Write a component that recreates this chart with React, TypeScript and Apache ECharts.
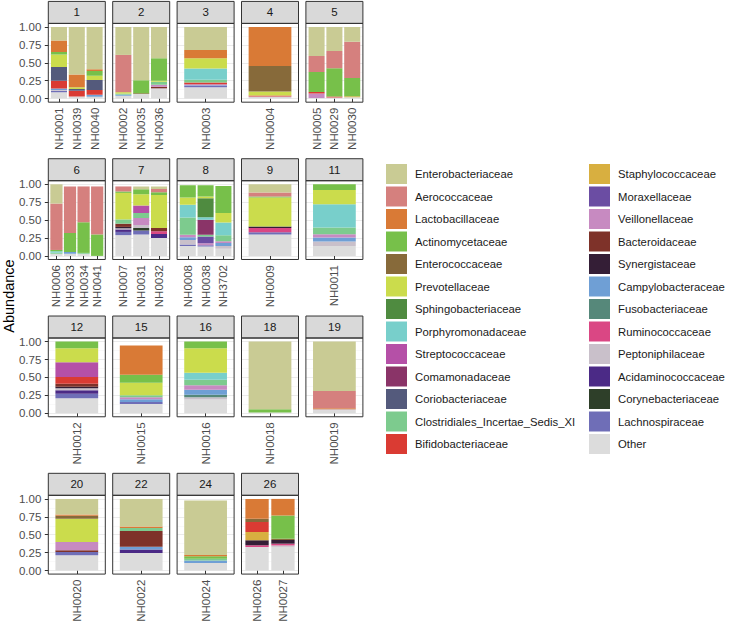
import React, { useEffect, useRef } from 'react';
import * as echarts from 'echarts';

// ---------------- data ----------------
const families = [
  'Enterobacteriaceae', 'Aerococcaceae', 'Lactobacillaceae', 'Actinomycetaceae', 'Enterococcaceae',
  'Prevotellaceae', 'Sphingobacteriaceae', 'Porphyromonadaceae', 'Streptococcaceae', 'Comamonadaceae',
  'Coriobacteriaceae', 'Clostridiales_Incertae_Sedis_XI', 'Bifidobacteriaceae',
  'Staphylococcaceae', 'Moraxellaceae', 'Veillonellaceae', 'Bacteroidaceae', 'Synergistaceae',
  'Campylobacteraceae', 'Fusobacteriaceae', 'Ruminococcaceae', 'Peptoniphilaceae', 'Acidaminococcaceae',
  'Corynebacteriaceae', 'Lachnospiraceae', 'Other',
];

const familyColors = [
  '#C9CB94', '#D5807E', '#D97A36', '#77C04A', '#876A3A',
  '#CBDC4C', '#4F8B40', '#78CFCB', '#B550A7', '#8A3468',
  '#545A7C', '#7DCB8E', '#DA3B33',
  '#D8AF40', '#6B4DA3', '#C78AC1', '#7E3229', '#341E36',
  '#6F9FD5', '#56887A', '#DA4784', '#C9C0CA', '#4B2A86',
  '#2E3F29', '#6F6EB7', '#DCDCDC',
];

type Abund = Record<string, number>;

const NH0001: Abund = { Enterobacteriaceae: 0.187, Lactobacillaceae: 0.163, Actinomycetaceae: 0.033, Prevotellaceae: 0.177, Coriobacteriaceae: 0.19, Bifidobacteriaceae: 0.11, Campylobacteraceae: 0.02, Peptoniphilaceae: 0.01, Lachnospiraceae: 0.02, Other: 0.09 };
const NH0039: Abund = { Enterobacteriaceae: 0.665, Lactobacillaceae: 0.175, Prevotellaceae: 0.025, Coriobacteriaceae: 0.025, Bifidobacteriaceae: 0.08, Other: 0.03 };
const NH0040: Abund = { Enterobacteriaceae: 0.59, Lactobacillaceae: 0.025, Actinomycetaceae: 0.065, Prevotellaceae: 0.06, Coriobacteriaceae: 0.14, Bifidobacteriaceae: 0.065, Campylobacteraceae: 0.03, Other: 0.025 };
const NH0002: Abund = { Enterobacteriaceae: 0.39, Aerococcaceae: 0.52, Prevotellaceae: 0.02, Clostridiales_Incertae_Sedis_XI: 0.015, Campylobacteraceae: 0.015, Other: 0.04 };
const NH0035: Abund = { Enterobacteriaceae: 0.745, Actinomycetaceae: 0.18, Enterococcaceae: 0.01, Other: 0.065 };
const NH0036: Abund = { Enterobacteriaceae: 0.435, Actinomycetaceae: 0.315, Prevotellaceae: 0.015, Clostridiales_Incertae_Sedis_XI: 0.04, Veillonellaceae: 0.03, Bacteroidaceae: 0.02, Peptoniphilaceae: 0.015, Other: 0.13 };
const NH0003: Abund = { Enterobacteriaceae: 0.32, Lactobacillaceae: 0.115, Prevotellaceae: 0.145, Porphyromonadaceae: 0.155, Clostridiales_Incertae_Sedis_XI: 0.04, Bifidobacteriaceae: 0.025, Veillonellaceae: 0.015, Campylobacteraceae: 0.01, Lachnospiraceae: 0.015, Other: 0.16 };
const NH0004: Abund = { Lactobacillaceae: 0.545, Enterococcaceae: 0.355, Prevotellaceae: 0.055, Bifidobacteriaceae: 0.015, Peptoniphilaceae: 0.015, Other: 0.015 };
const NH0005: Abund = { Enterobacteriaceae: 0.405, Aerococcaceae: 0.223, Actinomycetaceae: 0.279, Bifidobacteriaceae: 0.023, Veillonellaceae: 0.06, Other: 0.01 };
const NH0029: Abund = { Enterobacteriaceae: 0.335, Aerococcaceae: 0.242, Actinomycetaceae: 0.395, Bifidobacteriaceae: 0.013, Other: 0.015 };
const NH0030: Abund = { Enterobacteriaceae: 0.205, Aerococcaceae: 0.507, Actinomycetaceae: 0.255, Staphylococcaceae: 0.015, Other: 0.018 };
const NH0006: Abund = { Enterobacteriaceae: 0.269, Aerococcaceae: 0.648, Actinomycetaceae: 0.018, Porphyromonadaceae: 0.02, Clostridiales_Incertae_Sedis_XI: 0.015, Other: 0.03 };
const NH0033: Abund = { Aerococcaceae: 0.65, Actinomycetaceae: 0.265, Campylobacteraceae: 0.025, Other: 0.03 };
const NH0034: Abund = { Aerococcaceae: 0.5, Actinomycetaceae: 0.428, Clostridiales_Incertae_Sedis_XI: 0.012, Other: 0.03 };
const NH0041: Abund = { Aerococcaceae: 0.67, Actinomycetaceae: 0.3 };
const NH0007: Abund = { Aerococcaceae: 0.07, Actinomycetaceae: 0.02, Prevotellaceae: 0.37, Clostridiales_Incertae_Sedis_XI: 0.06, Bacteroidaceae: 0.045, Synergistaceae: 0.02, Peptoniphilaceae: 0.015, Acidaminococcaceae: 0.035, Lachnospiraceae: 0.045, Other: 0.29 };
const NH0031: Abund = { Enterobacteriaceae: 0.04, Actinomycetaceae: 0.07, Prevotellaceae: 0.155, Streptococcaceae: 0.105, Clostridiales_Incertae_Sedis_XI: 0.07, Veillonellaceae: 0.1, Peptoniphilaceae: 0.04, Corynebacteriaceae: 0.035, Lachnospiraceae: 0.055, Other: 0.3 };
const NH0032: Abund = { Enterobacteriaceae: 0.035, Aerococcaceae: 0.045, Actinomycetaceae: 0.04, Prevotellaceae: 0.46, Bacteroidaceae: 0.045, Ruminococcaceae: 0.04, Acidaminococcaceae: 0.055, Other: 0.25 };
const NH0008: Abund = { Actinomycetaceae: 0.17, Prevotellaceae: 0.102, Porphyromonadaceae: 0.176, Clostridiales_Incertae_Sedis_XI: 0.241, Veillonellaceae: 0.037, Campylobacteraceae: 0.037, Peptoniphilaceae: 0.062, Lachnospiraceae: 0.02, Other: 0.14 };
const NH0038: Abund = { Actinomycetaceae: 0.155, Prevotellaceae: 0.025, Sphingobacteriaceae: 0.265, Porphyromonadaceae: 0.035, Comamonadaceae: 0.209, Clostridiales_Incertae_Sedis_XI: 0.026, Moraxellaceae: 0.095, Veillonellaceae: 0.025, Lachnospiraceae: 0.02, Other: 0.13 };
const NH3702: Abund = { Actinomycetaceae: 0.375, Prevotellaceae: 0.132, Porphyromonadaceae: 0.181, Clostridiales_Incertae_Sedis_XI: 0.083, Veillonellaceae: 0.024, Campylobacteraceae: 0.041, Peptoniphilaceae: 0.039, Other: 0.1 };
const NH0009: Abund = { Enterobacteriaceae: 0.115, Aerococcaceae: 0.056, Actinomycetaceae: 0.014, Prevotellaceae: 0.405, Synergistaceae: 0.019, Ruminococcaceae: 0.06, Lachnospiraceae: 0.03, Other: 0.3 };
const NH0011: Abund = { Actinomycetaceae: 0.079, Prevotellaceae: 0.2, Porphyromonadaceae: 0.325, Clostridiales_Incertae_Sedis_XI: 0.093, Veillonellaceae: 0.046, Campylobacteraceae: 0.056, Peptoniphilaceae: 0.06, Other: 0.14 };
const NH0012: Abund = { Actinomycetaceae: 0.093, Prevotellaceae: 0.194, Streptococcaceae: 0.208, Bifidobacteriaceae: 0.095, Bacteroidaceae: 0.04, Synergistaceae: 0.02, Peptoniphilaceae: 0.03, Acidaminococcaceae: 0.05, Lachnospiraceae: 0.06, Other: 0.21 };
const NH0015: Abund = { Lactobacillaceae: 0.407, Actinomycetaceae: 0.111, Prevotellaceae: 0.176, Clostridiales_Incertae_Sedis_XI: 0.028, Veillonellaceae: 0.028, Campylobacteraceae: 0.037, Lachnospiraceae: 0.027, Other: 0.13 };
const NH0016: Abund = { Actinomycetaceae: 0.093, Prevotellaceae: 0.342, Porphyromonadaceae: 0.097, Clostridiales_Incertae_Sedis_XI: 0.079, Veillonellaceae: 0.06, Campylobacteraceae: 0.07, Fusobacteriaceae: 0.037, Peptoniphilaceae: 0.032, Other: 0.19 };
const NH0018: Abund = { Enterobacteriaceae: 0.945, Actinomycetaceae: 0.045, Other: 0.01 };
const NH0019: Abund = { Enterobacteriaceae: 0.691, Aerococcaceae: 0.239, Lactobacillaceae: 0.015, Peptoniphilaceae: 0.015, Other: 0.04 };
const NH0020: Abund = { Enterobacteriaceae: 0.218, Lactobacillaceae: 0.018, Enterococcaceae: 0.042, Prevotellaceae: 0.324, Veillonellaceae: 0.116, Bacteroidaceae: 0.023, Lachnospiraceae: 0.046, Other: 0.213 };
const NH0022: Abund = { Enterobacteriaceae: 0.384, Lactobacillaceae: 0.023, Clostridiales_Incertae_Sedis_XI: 0.042, Bacteroidaceae: 0.221, Campylobacteraceae: 0.038, Acidaminococcaceae: 0.047, Other: 0.245 };
const NH0024: Abund = { Enterobacteriaceae: 0.759, Lactobacillaceae: 0.019, Actinomycetaceae: 0.034, Clostridiales_Incertae_Sedis_XI: 0.025, Campylobacteraceae: 0.035, Other: 0.105 };
const NH0026: Abund = { Lactobacillaceae: 0.278, Enterococcaceae: 0.046, Bifidobacteriaceae: 0.139, Staphylococcaceae: 0.116, Synergistaceae: 0.069, Ruminococcaceae: 0.023, Other: 0.329 };
const NH0027: Abund = { Lactobacillaceae: 0.232, Actinomycetaceae: 0.324, Enterococcaceae: 0.018, Synergistaceae: 0.051, Ruminococcaceae: 0.025, Peptoniphilaceae: 0.02, Other: 0.33 };

const sampleTable: Record<string, Abund> = {
  NH0001, NH0039, NH0040, NH0002, NH0035, NH0036, NH0003, NH0004, NH0005, NH0029, NH0030,
  NH0006, NH0033, NH0034, NH0041, NH0007, NH0031, NH0032, NH0008, NH0038, NH3702, NH0009, NH0011,
  NH0012, NH0015, NH0016, NH0018, NH0019, NH0020, NH0022, NH0024, NH0026, NH0027,
};

const facetLabels = ['1', '2', '3', '4', '5', '6', '7', '8', '9', '11', '12', '15', '16', '18', '19', '20', '22', '24', '26'];
const facetSamples = [
  ['NH0001', 'NH0039', 'NH0040'], ['NH0002', 'NH0035', 'NH0036'], ['NH0003'], ['NH0004'], ['NH0005', 'NH0029', 'NH0030'],
  ['NH0006', 'NH0033', 'NH0034', 'NH0041'], ['NH0007', 'NH0031', 'NH0032'], ['NH0008', 'NH0038', 'NH3702'], ['NH0009'], ['NH0011'],
  ['NH0012'], ['NH0015'], ['NH0016'], ['NH0018'], ['NH0019'],
  ['NH0020'], ['NH0022'], ['NH0024'], ['NH0026', 'NH0027'],
];

const yAxisTitle = 'Abundance';

// ---------------- layout ----------------
const NCOL = 5;
const PANEL_LEFT0 = 48.3;
const PANEL_PITCH_X = 64.4;
const PANEL_W = 57;
const DATA_TOP0 = 27;
const PANEL_PITCH_Y = 157.3;
const DATA_H = 71.6;
const EXPAND = 0.05 * DATA_H;
const STRIP_H = 22;
const FONT = '"Liberation Sans", Arial, Helvetica, sans-serif';

function buildOption() {
  const grid: any[] = [];
  const xAxis: any[] = [];
  const yAxis: any[] = [];
  const series: any[] = [];
  const graphic: any[] = [];

  facetLabels.forEach((label, i) => {
    const r = Math.floor(i / NCOL);
    const c = i % NCOL;
    const pl = PANEL_LEFT0 + c * PANEL_PITCH_X;
    const dt = DATA_TOP0 + r * PANEL_PITCH_Y;
    const pt = dt - EXPAND;
    const ph = DATA_H + 2 * EXPAND;
    const samples = facetSamples[i];
    const n = samples.length;
    const unit = PANEL_W / (n + 0.2);

    // background grid (gridlines + y axis)
    const bg = grid.length;
    grid.push({ left: pl, top: dt, width: PANEL_W, height: DATA_H, containLabel: false, outerBoundsMode: 'none' });
    xAxis.push({ gridIndex: bg, type: 'value', show: false, min: 0, max: 1 });
    yAxis.push({
      gridIndex: bg, type: 'value', min: 0, max: 1, interval: 0.25,
      axisLine: { show: false },
      axisTick: { show: c === 0, length: 3.5, lineStyle: { color: '#333333', width: 1 } },
      axisLabel: {
        show: c === 0, margin: 7, fontSize: 11.5, color: '#4D4D4D', fontFamily: FONT,
        formatter: (v: number) => v.toFixed(2),
      },
      splitLine: { show: true, lineStyle: { color: '#EBEBEB', width: 1 } },
      minorTick: { show: false, splitNumber: 2 },
      minorSplitLine: { show: true, lineStyle: { color: '#F5F5F5', width: 0.6 } },
    });

    // data grid
    const dg = grid.length;
    grid.push({ left: pl + 0.1 * unit, top: dt, width: n * unit, height: DATA_H, containLabel: false, outerBoundsMode: 'none' });
    xAxis.push({
      gridIndex: dg, type: 'category', data: samples, offset: EXPAND,
      axisLine: { show: false },
      axisTick: { show: true, alignWithLabel: true, length: 3.5, lineStyle: { color: '#333333', width: 1 } },
      axisLabel: { rotate: 90, margin: 5.5, fontSize: 11.5, color: '#4D4D4D', fontFamily: FONT, interval: 0 },
      splitLine: { show: false },
    });
    yAxis.push({ gridIndex: dg, type: 'value', min: 0, max: 1, show: false, splitLine: { show: false } });

    for (let f = families.length - 1; f >= 0; f--) {
      const fam = families[f];
      const data = samples.map((s) => sampleTable[s][fam] ?? 0);
      if (!data.some((v) => v > 0)) continue;
      series.push({
        type: 'bar', name: fam, xAxisIndex: dg, yAxisIndex: dg, stack: 'facet' + i,
        barWidth: '90%', data, itemStyle: { color: familyColors[f] }, silent: true,
        emphasis: { disabled: true },
      });
    }

    // strip
    graphic.push({
      type: 'rect', z: 100, shape: { x: pl, y: pt - STRIP_H, width: PANEL_W, height: STRIP_H },
      style: { fill: '#D9D9D9', stroke: '#333333', lineWidth: 1 },
    });
    graphic.push({
      type: 'text', z: 101, x: pl + PANEL_W / 2, y: pt - STRIP_H / 2,
      style: {
        text: label, fill: '#1A1A1A', font: `11.5px ${FONT}`,
        align: 'center', verticalAlign: 'middle', textAlign: 'center', textVerticalAlign: 'middle',
      },
    });
    // panel border
    graphic.push({
      type: 'rect', z: 100, shape: { x: pl, y: pt, width: PANEL_W, height: ph },
      style: { fill: 'none', stroke: '#333333', lineWidth: 1 },
    });
  });

  graphic.push({
    type: 'text', z: 101, x: 8.5, y: 296, rotation: Math.PI / 2,
    style: {
      text: yAxisTitle, fill: '#000000', font: `14.5px ${FONT}`,
      align: 'center', verticalAlign: 'middle', textAlign: 'center', textVerticalAlign: 'middle',
    },
  });

  const legendBase = {
    orient: 'vertical', top: 164, padding: 0, itemWidth: 21, itemHeight: 20, itemGap: 2.5, icon: 'rect',
    selectedMode: false,
    textStyle: { fontSize: 11.3, color: '#1A1A1A', fontFamily: FONT, padding: [0, 0, 0, 3] },
  };

  return {
    animation: false,
    backgroundColor: '#FFFFFF',
    grid, xAxis, yAxis, series, graphic,
    legend: [
      { ...legendBase, left: 386, data: families.slice(0, 13) },
      { ...legendBase, left: 589, data: families.slice(13) },
    ],
  };
}

export default function App() {
  const ref = useRef<HTMLDivElement>(null);
  useEffect(() => {
    if (!ref.current) return;
    const chart = echarts.init(ref.current, undefined, { renderer: 'svg' });
    chart.setOption(buildOption() as any);
    return () => chart.dispose();
  }, []);
  return <div ref={ref} style={{ position: 'fixed', left: 0, top: 0, width: 729, height: 625 }} />;
}
